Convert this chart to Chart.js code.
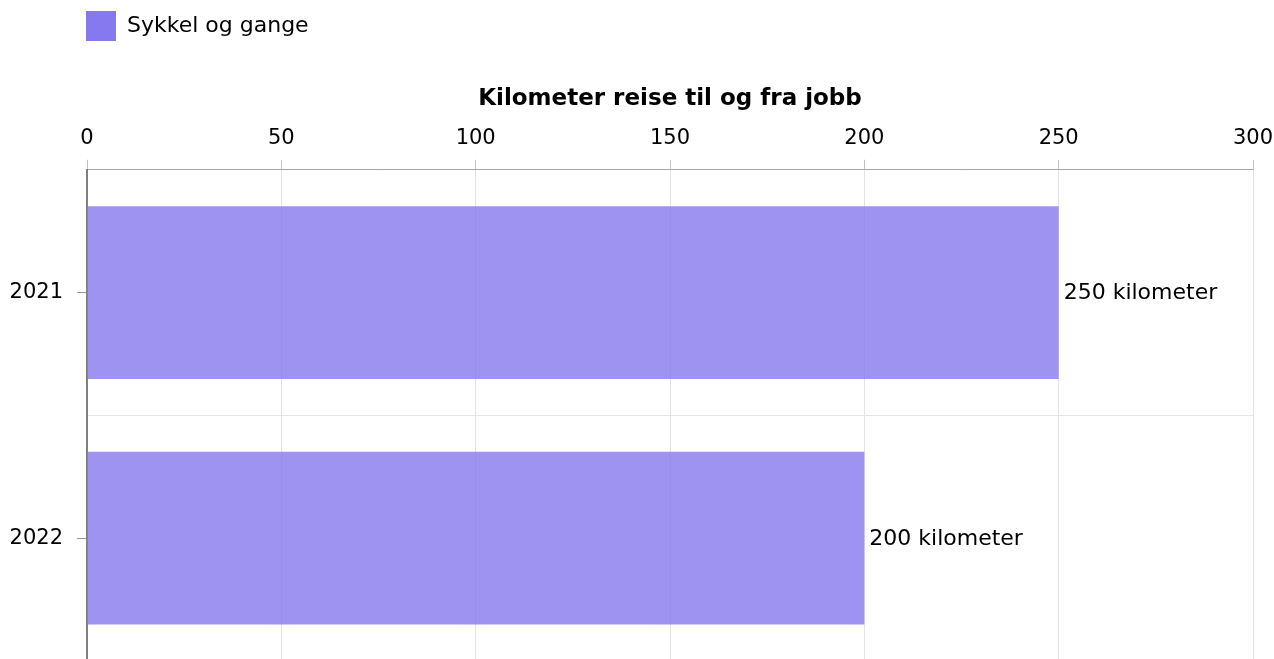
<!DOCTYPE html>
<html>
<head>
<meta charset="utf-8">
<script src="https://cdn.jsdelivr.net/npm/chart.js@4/dist/chart.umd.min.js"></script>
<style>
  html, body { margin: 0; padding: 0; background: #fff; overflow: hidden; }
  canvas { display: block; }
</style>
</head>
<body>
<canvas id="c" width="1274" height="661" style="width:1274px;height:661px"></canvas>
<script>
const categories = ['2021', '2022'];
const seriesName = 'Sykkel og gange';
const seriesValues = [250, 200];
const xTicks = [0, 50, 100, 150, 200, 250, 300];
const axisTitle = 'Kilometer reise til og fra jobb';
const valueSuffix = ' kilometer';

const FONT = "'DejaVu Sans', Verdana, sans-serif";
Chart.defaults.font.family = FONT;
Chart.defaults.font.size = 21;
Chart.defaults.color = '#000';

const labelPlugin = {
  id: 'valueLabels',
  afterDatasetsDraw(chart) {
    const ctx = chart.ctx;
    const meta = chart.getDatasetMeta(0);
    ctx.save();
    ctx.font = "22px " + FONT;
    ctx.fillStyle = '#000';
    ctx.textBaseline = 'middle';
    ctx.textAlign = 'left';
    meta.data.forEach((bar, i) => {
      ctx.fillText(seriesValues[i] + valueSuffix, bar.x + 5, bar.y + 1);
    });
    ctx.restore();
  }
};

const legendShift = {
  id: 'legendShift',
  afterLayout(chart) {
    if (chart.legend) chart.legend.left = chart.chartArea.left - 11;
  }
};

function noPad(scale) {
  scale.paddingLeft = 0;
  scale.paddingRight = 0;
  scale.paddingTop = 0;
  scale.paddingBottom = 0;
}

new Chart(document.getElementById('c'), {
  type: 'bar',
  data: {
    labels: categories,
    datasets: [{
      label: seriesName,
      data: seriesValues,
      backgroundColor: 'rgba(134,120,238,0.8)',
      borderWidth: 0,
      barPercentage: 0.703,
      categoryPercentage: 1.0,
      yAxisID: 'y'
    }]
  },
  options: {
    indexAxis: 'y',
    responsive: false,
    maintainAspectRatio: false,
    animation: false,
    layout: { padding: { left: 9, right: 21, top: 1, bottom: 0 } },
    plugins: {
      legend: {
        position: 'top',
        align: 'start',
        labels: {
          boxWidth: 30,
          boxHeight: 30,
          padding: 10,
          color: '#000',
          font: { size: 22 },
          generateLabels(chart) {
            return chart.data.datasets.map((ds, i) => ({
              text: ds.label,
              fillStyle: 'rgb(134,120,238)',
              strokeStyle: 'rgb(134,120,238)',
              lineWidth: 0,
              hidden: false,
              datasetIndex: i
            }));
          }
        }
      },
      tooltip: { enabled: false }
    },
    scales: {
      x: {
        type: 'linear',
        position: 'top',
        min: 0,
        max: 300,
        afterBuildTicks(scale) { scale.ticks = xTicks.map(v => ({ value: v })); },
        afterFit(scale) { noPad(scale); },
        ticks: { padding: 9, color: '#000', font: { size: 21 } },
        grid: { color: '#e3e3e3', tickColor: '#c4c4c4', tickLength: 10, drawTicks: true },
        border: { display: true, color: '#a6a6a6', width: 1 },
        title: {
          display: true,
          text: axisTitle,
          color: '#000',
          font: { size: 23, weight: 'bold' },
          padding: { top: 34, bottom: 4 }
        }
      },
      y: {
        type: 'category',
        position: 'left',
        weight: 1,
        offset: true,
        ticks: { padding: 14, color: '#000', font: { size: 21 } },
        grid: { offset: true, color: '#e6e6e6', drawTicks: false },
        border: { display: false },
        afterFit(scale) { scale.width = 68; noPad(scale); }
      },
      yTicks: {
        type: 'category',
        position: 'left',
        weight: 0,
        offset: true,
        labels: categories,
        ticks: { display: false },
        grid: { offset: false, drawOnChartArea: false, drawTicks: true, tickLength: 10, tickColor: '#999' },
        border: { display: true, color: '#808080', width: 2 },
        afterFit(scale) { scale.width = 10; noPad(scale); }
      }
    }
  },
  plugins: [labelPlugin, legendShift]
});
</script>
</body>
</html>
